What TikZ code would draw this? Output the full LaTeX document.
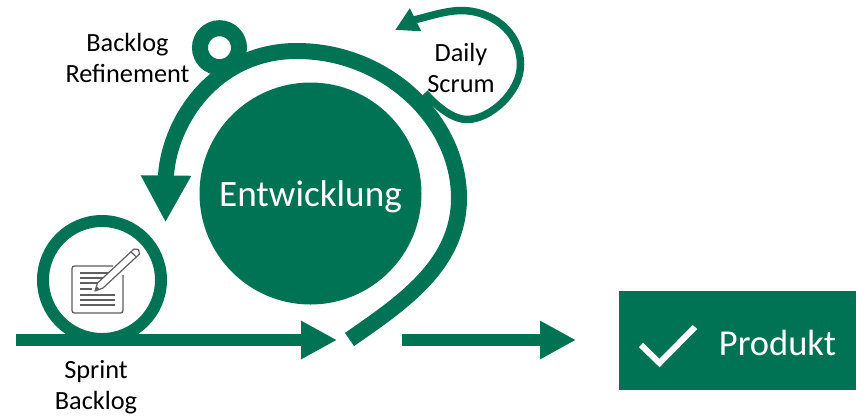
\documentclass[tikz,border=0pt]{standalone}
\usepackage{fontspec}
\setmainfont{Carlito}
\usetikzlibrary{arrows.meta}
\definecolor{scrumgreen}{HTML}{007355}
\definecolor{icongray}{HTML}{5F5F5F}
\tikzset{
  flow/.style={draw=scrumgreen,line width=12pt,-{Triangle[length=36pt,width=36pt]},line join=round},
  cycle/.style={draw=scrumgreen,line width=16pt,-{Triangle[length=47pt,width=47pt]},line join=round},
  daily/.style={draw=scrumgreen,line width=7.5pt,-{Triangle[length=23pt,width=24pt]},line join=round},
  label/.style={font=\fontsize{26.3}{31}\selectfont,align=center,text=black,inner sep=0pt},
  iconline/.style={draw=icongray,line width=1.2pt},
}
\begin{document}
\begin{tikzpicture}[x=1pt,y=-1pt]
\path[use as bounding box] (0,0) rectangle (867,416);
% coordinates
\coordinate (flowstart) at (16,340);
\coordinate (flowend) at (337,340);
\coordinate (outstart) at (402,340);
\coordinate (outend) at (576,340);
\coordinate (cyclestart) at (349.5,339.5);
\coordinate (cycleend) at (165.5,222.5);
\coordinate (dailystart) at (425,93);
\coordinate (dailyend) at (395,30);
% main shapes
\node[circle,fill=scrumgreen,minimum size=222pt,inner sep=0pt] (dev) at (310.5,193.5) {};
\node[text=white,font=\fontsize{37.2}{40}\selectfont,inner sep=0pt] (devtext) at (310.5,197) {Entwicklung};
\draw[daily] (dailystart) .. controls (440,110) and (455,119.5) .. (467,119.5)
   .. controls (490,119.5) and (520.5,92) .. (520.5,65)
   .. controls (520.5,30) and (490,10) .. (460,10.5)
   .. controls (445,11) and (430,16) .. (416,19.5) -- (dailyend);
\draw[cycle] (cyclestart) .. controls (402,303) and (459,265) .. (459,198)
   .. controls (459,120) and (385,50) .. (295,51)
   .. controls (215,52) and (170,120) .. (166,175) -- (cycleend);
\node[circle,draw=scrumgreen,line width=16pt,fill=white,minimum size=39pt,inner sep=0pt] (refine) at (219.5,47.7) {};
\node[circle,draw=scrumgreen,line width=12pt,fill=white,minimum size=118pt,inner sep=0pt] (sprint) at (102,280) {};
\draw[flow] (flowstart) -- (flowend);
\draw[flow] (outstart) -- (outend);
% icon
\draw[icongray,line width=1.3pt,rounded corners=2.5pt] (113,266) -- (72,266) -- (72,313) -- (123,313) -- (123,275);
\foreach \yy/\xa/\xb in {273/80/115,278/80/112,283/80/99,289/80/92,295/80/115,300/80/115,305/80/115}{
  \draw[iconline] (\xa,\yy) -- (\xb,\yy);
}
\draw[iconline,fill=white,line join=round] (95,291) -- (97.5,283) -- (134,249) -- (138.5,249.5) -- (139.5,254) -- (103,288) -- cycle;
\fill[icongray] (95,291) -- (96.5,286) -- (100,289.5) -- cycle;
\draw[iconline] (131,252) -- (136.5,257);
% product
\node[rectangle,fill=scrumgreen,minimum width=237.5pt,minimum height=99pt,inner sep=0pt] (prod) at (737.7,340.5) {};
\draw[white,line width=6pt] (641,345) -- (659.5,363) -- (695,327);
\node[text=white,font=\fontsize{36.5}{40}\selectfont,inner sep=0pt] (prodtext) at (777.5,343) {Produkt};
% labels
\node[label] (backlog) at (127.5,57.5) {Backlog\\Refinement};
\node[label] (scrum) at (461,67.5) {Daily\\Scrum};
\node[label] (sb) at (96,387.5) {Sprint\\Backlog};
\end{tikzpicture}
\end{document}
